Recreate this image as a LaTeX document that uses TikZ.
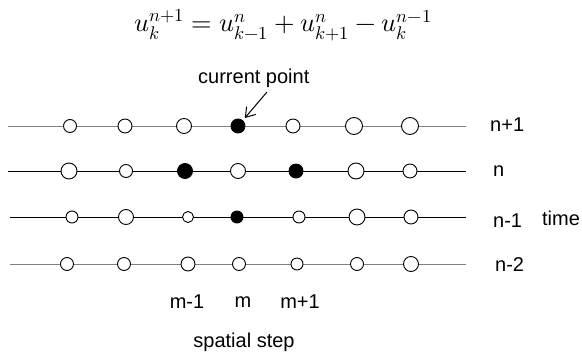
\documentclass[tikz,border=0pt]{standalone}
\usepackage{fontspec}
\setmainfont{Liberation Sans}
\usepackage{unicode-math}
\setmathfont{Latin Modern Math}
\usetikzlibrary{arrows.meta}
\tikzset{
  pt/.style={circle,draw=black,line width=0.9pt,fill=white,inner sep=0pt,minimum size=#1},
  fpt/.style={circle,draw=black,line width=0.9pt,fill=black,inner sep=0pt,minimum size=#1},
  gridline/.style={line width=1pt},
  lbl/.style={font=\fontsize{20}{23}\selectfont,inner sep=0pt},
}
\begin{document}
\begin{tikzpicture}[x=1pt,y=-1pt]
\useasboundingbox (0,0) rectangle (582,356);
% equation
\node[inner sep=0pt,font=\fontsize{26.3}{30}\selectfont] (eq) at (283,25) {$u_k^{n+1} = u_{k-1}^n + u_{k+1}^n - u_k^{n-1}$};
% line end points
\coordinate (a0) at (8,126);  \coordinate (a1) at (466,126);
\coordinate (b0) at (8,171);  \coordinate (b1) at (466,171);
\coordinate (c0) at (10,217); \coordinate (c1) at (466,217);
\coordinate (d0) at (10,264); \coordinate (d1) at (466,264);
\draw[gridline,gray] (a0) -- (a1);
\draw[gridline,black] (b0) -- (b1);
\draw[gridline,black] (c0) -- (c1);
\draw[gridline,gray] (d0) -- (d1);
% row n+1
\node[pt=13pt] (a1p) at (70,126) {};
\node[pt=14pt] (a2p) at (125,126) {};
\node[pt=15pt] (a3p) at (184,126) {};
\node[fpt=14pt] (a4p) at (238,126) {};
\node[pt=14pt] (a5p) at (293,126) {};
\node[pt=17pt] (a6p) at (354,126) {};
\node[pt=17pt] (a7p) at (410,126) {};
% row n
\node[pt=16pt] (b1p) at (69,171) {};
\node[pt=13pt] (b2p) at (126,171) {};
\node[fpt=15pt] (b3p) at (185,171) {};
\node[pt=15pt] (b4p) at (238,171) {};
\node[fpt=14pt] (b5p) at (296,171) {};
\node[pt=16pt] (b6p) at (356,171) {};
\node[pt=14pt] (b7p) at (410,171) {};
% row n-1
\node[pt=12pt] (c1p) at (72,217) {};
\node[pt=15pt] (c2p) at (126,217) {};
\node[pt=11pt] (c3p) at (188,217) {};
\node[fpt=12pt] (c4p) at (237,217) {};
\node[pt=12pt] (c5p) at (299,217) {};
\node[pt=16pt] (c6p) at (357,217) {};
\node[pt=14pt] (c7p) at (411,217) {};
% row n-2
\node[pt=13pt] (d1p) at (67,264) {};
\node[pt=13pt] (d2p) at (124,264) {};
\node[pt=14pt] (d3p) at (188,264) {};
\node[pt=13pt] (d4p) at (239,264) {};
\node[pt=12pt] (d5p) at (297,264) {};
\node[pt=13pt] (d6p) at (357,264) {};
\node[pt=15pt] (d7p) at (411,264) {};
% labels
\node[lbl,anchor=west] (cp) at (198,78) {current point};
\coordinate (cpa) at (267,92);
\draw[line width=1pt,shorten >=3pt,-{Straight Barb[length=9pt,width=12pt]}] (cpa) -- (a4p);
\node[lbl,anchor=west] (ln1) at (490,125) {n+1};
\node[lbl,anchor=west] (ln0) at (493,171) {n};
\node[lbl,anchor=west] (lnm1) at (493,221) {n-1};
\node[lbl,anchor=west] (lnm2) at (495,265) {n-2};
\node[lbl] (time) at (561,218) {time};
\node[lbl] (mm1) at (187,302) {m-1};
\node[lbl] (m) at (243,302) {m};
\node[lbl] (mp1) at (300,302) {m+1};
\node[lbl] (ss) at (244,342) {spatial step};
\end{tikzpicture}
\end{document}
